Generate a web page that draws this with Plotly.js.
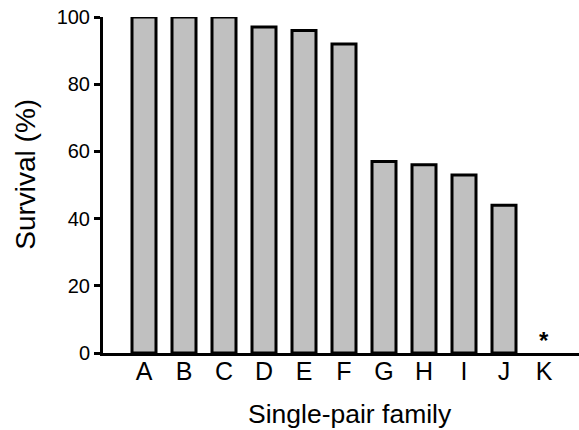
<!DOCTYPE html>
<html>
<head>
<script src="https://cdn.plot.ly/plotly-3.0.1.min.js"></script>
<style>html,body{margin:0;padding:0;background:#fff}#chart{width:579px;height:430px}</style>
</head>
<body>
<div id="chart"></div>
<script>
const families = ["A","B","C","D","E","F","G","H","I","J","K"];
const survival = [100,100,100,97,96,92,57,56,53,44,0];
const markLabels = ["","","","","","","","","","","*"];
const yTicks = [0,20,40,60,80,100];
const xTitle = 'Single-pair family';
const yTitle = 'Survival (%)';

const FONT = 'Liberation Sans, Arial';
const annotations = families.map((f,i)=>({
  x: f, y: survival[i], text: markLabels[i], showarrow:false,
  yanchor:'bottom', yshift:-3, font:{family:FONT, size:24, color:'#000', weight:'bold'}
})).filter(a=>a.text);

annotations.push({
  xref:'paper', yref:'paper', x:0.519, y:-0.131, xanchor:'center', yanchor:'top',
  text:xTitle, showarrow:false, font:{family:FONT, size:26.5, color:'#000'}
});
annotations.push({
  xref:'paper', yref:'paper', x:-0.162, y:0.533, xanchor:'center', yanchor:'middle',
  text:yTitle, textangle:-90, showarrow:false, font:{family:FONT, size:28, color:'#000'}
});

Plotly.newPlot('chart', [{
  type:'bar', x:families, y:survival, width:0.6,
  marker:{color:'#c0c0c0', line:{color:'#000', width:survival.map(v=>v>0?3:0)}},
  cliponaxis:false, hoverinfo:'none'
}], {
  width:579, height:430,
  margin:{l:103, r:0, t:17, b:77},
  paper_bgcolor:'#fff', plot_bgcolor:'#fff',
  showlegend:false,
  font:{family:FONT, color:'#000'},
  xaxis:{
    range:[-1.025,10.875], showgrid:false, zeroline:false,
    showline:true, linecolor:'#000', linewidth:3,
    ticks:'', ticklabelstandoff:-6,
    tickfont:{size:25}
  },
  yaxis:{
    range:[0,100], tickvals:yTicks, showgrid:false, zeroline:false,
    showline:true, linecolor:'#000', linewidth:3,
    ticks:'outside', ticklen:6, tickwidth:3, tickcolor:'#000',
    ticksuffix:'\u2009\u2009',
    tickfont:{size:20}
  },
  annotations: annotations
}, {staticPlot:true});
</script>
</body>
</html>
